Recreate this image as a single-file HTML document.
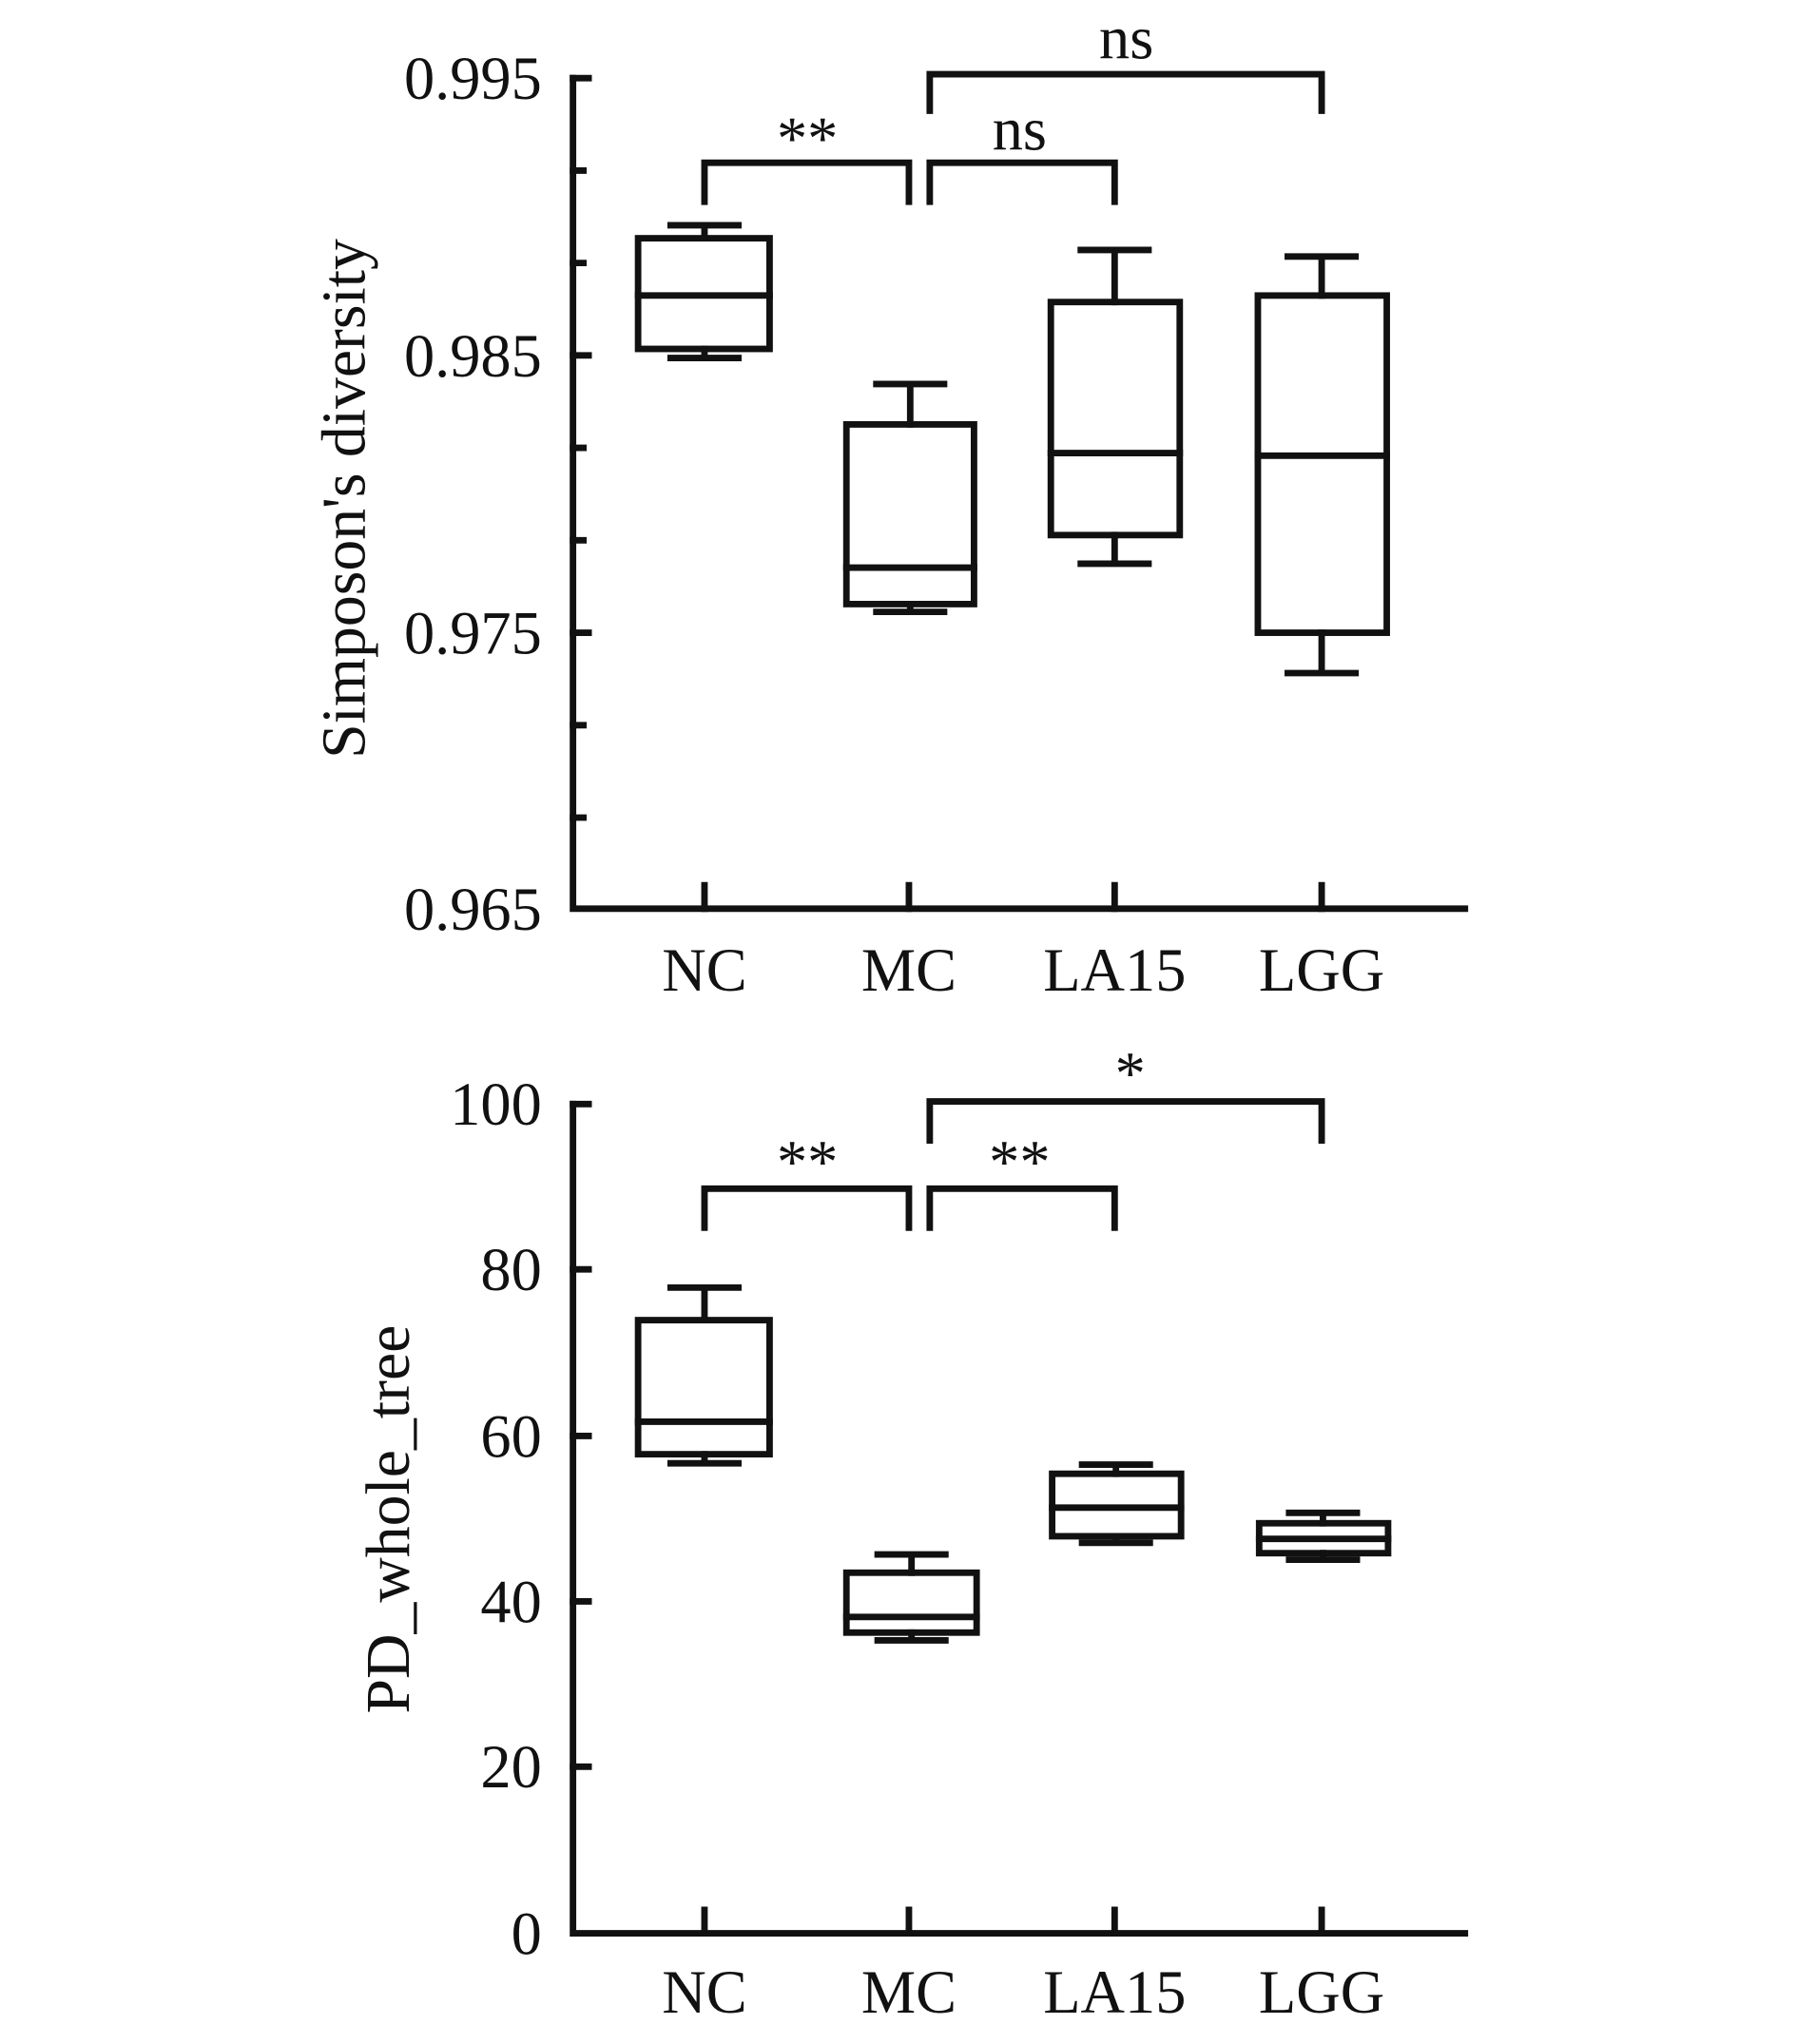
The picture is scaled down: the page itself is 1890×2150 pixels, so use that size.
<!DOCTYPE html>
<html><head><style>body{margin:0;background:#fff}svg{display:block}</style></head><body>
<svg width="1890" height="2150" viewBox="0 0 1380 1570" xmlns="http://www.w3.org/2000/svg" font-family="Liberation Serif, serif" fill="none" stroke="#111" stroke-width="5">
<g stroke-linecap="square">
<path d="M440 60V698H1125"/>
<path d="M440 60h12M440 131h8M440 202h8M440 273h12M440 344h8M440 415h8M440 486h12M440 557h8M440 628h8"/>
<path d="M541 698v-18M698 698v-18M856 698v-18M1015 698v-18"/>
<rect x="490" y="183" width="101" height="85"/><path d="M490 227h101M541 183v-10M541 268v7M515 173h52M515 275h52"/>
<rect x="650" y="326" width="98" height="138"/><path d="M650 436h98M699 326v-31M699 464v6M673 295h52M673 470h52"/>
<rect x="807" y="232" width="99" height="179"/><path d="M807 348h99M856 232v-40M856 411v22M830 192h52M830 433h52"/>
<rect x="966" y="227" width="99" height="259"/><path d="M966 350h99M1015 227v-30M1015 486v31M989 197h52M989 517h52"/>
<path d="M541 155v-30h157v30M714 155v-30h142v30M714 85v-28h301v28"/>
<path d="M440 848V1485H1125"/>
<path d="M440 848h12M440 975h12M440 1103h12M440 1230h12M440 1357h12"/>
<path d="M541 1485v-18M698 1485v-18M856 1485v-18M1015 1485v-18"/>
<rect x="490" y="1014" width="101" height="103"/><path d="M490 1092h101M541 1014v-25M541 1117v7M515 989h52M515 1124h52"/>
<rect x="650" y="1208" width="100" height="46"/><path d="M650 1242h100M700 1208v-14M700 1254v6M674 1194h52M674 1260h52"/>
<rect x="808" y="1132" width="99" height="48"/><path d="M808 1158h99M857 1132v-7M857 1180v5M831 1125h52M831 1185h52"/>
<rect x="967" y="1170" width="99" height="23"/><path d="M967 1182h99M1016 1170v-8M1016 1193v5M990 1162h52M990 1198h52"/>
<path d="M541 943v-30h157v30M714 943v-30h142v30M714 876v-30h301v30"/>
</g>
<g fill="#111" stroke="none" font-size="47">
<g text-anchor="end">
<text x="416" y="76">0.995</text><text x="416" y="289">0.985</text><text x="416" y="502">0.975</text><text x="416" y="714">0.965</text>
<text x="416" y="864">100</text><text x="416" y="991">80</text><text x="416" y="1119">60</text><text x="416" y="1246">40</text><text x="416" y="1373">20</text><text x="416" y="1501">0</text>
</g>
<g text-anchor="middle">
<text x="541" y="761">NC</text><text x="698" y="761">MC</text><text x="856" y="761">LA15</text><text x="1015" y="761">LGG</text>
<text x="541" y="1546">NC</text><text x="698" y="1546">MC</text><text x="856" y="1546">LA15</text><text x="1015" y="1546">LGG</text>
<text x="620" y="122">**</text><text x="783" y="115">ns</text><text x="865" y="45">ns</text>
<text x="620" y="908">**</text><text x="783" y="908">**</text><text x="868" y="840">*</text>
<text font-size="48" transform="translate(280 383) rotate(-90)">Simposon's diversity</text>
<text font-size="48" transform="translate(314 1167) rotate(-90)">PD_whole_tree</text>
</g>
</g>
</svg>
</body></html>
